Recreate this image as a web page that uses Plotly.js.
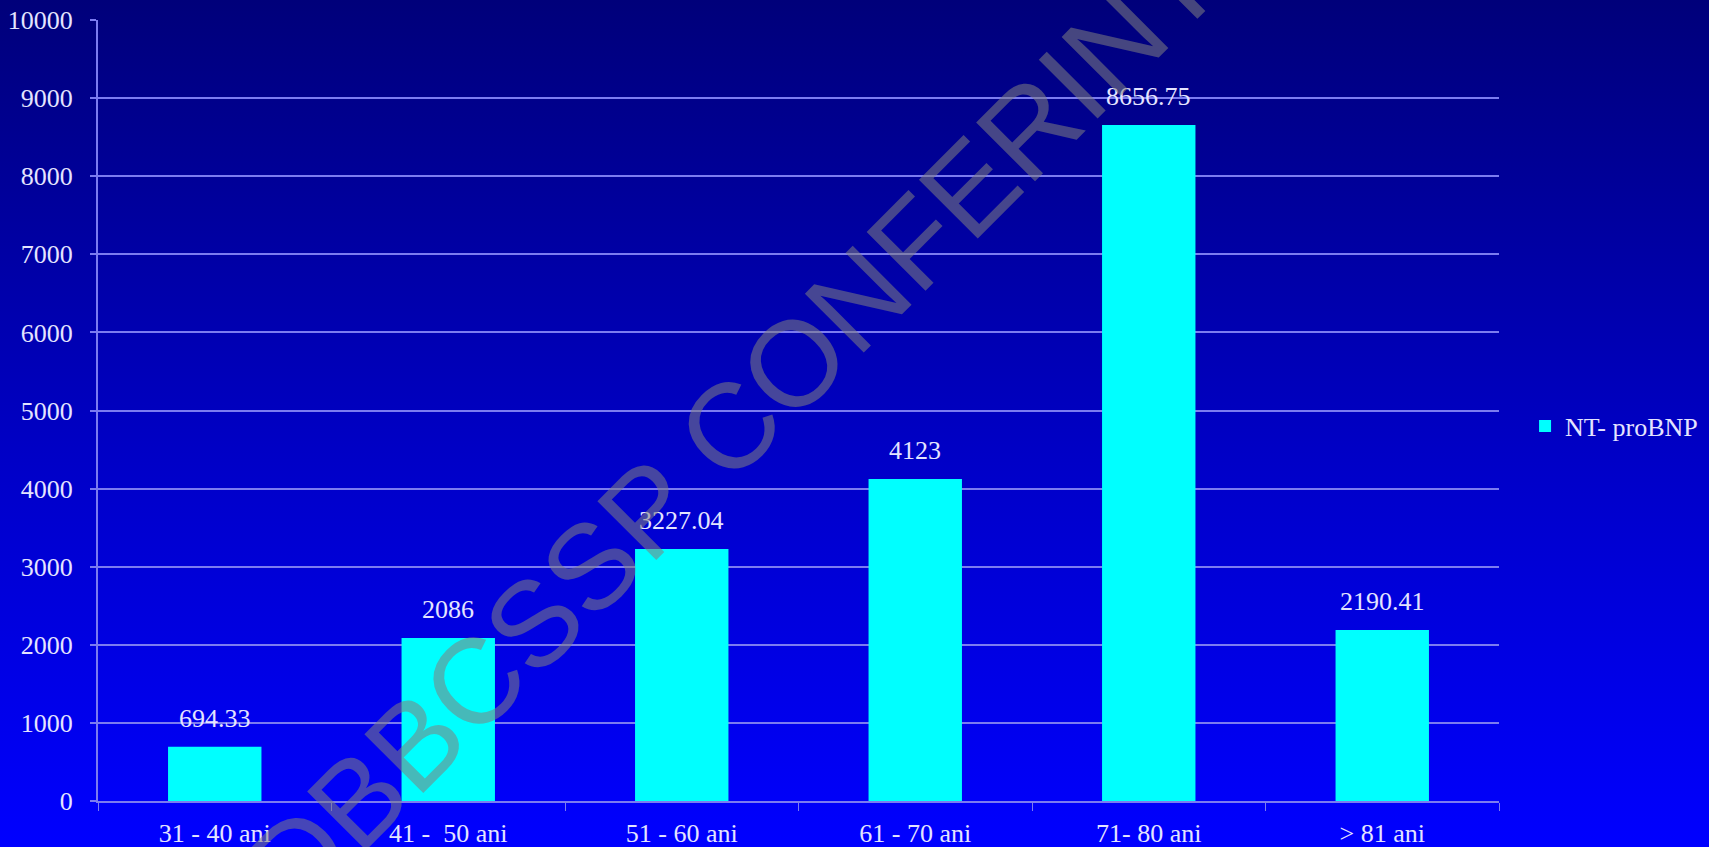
<!DOCTYPE html>
<html>
<head>
<meta charset="utf-8">
<script src="https://cdn.plot.ly/plotly-3.0.1.min.js"></script>
<style>
  html, body { margin: 0; padding: 0; }
  body { width: 1709px; height: 847px; background: linear-gradient(to bottom, #00007A 0%, #0000C8 55%, #0000FF 100%); overflow: hidden; }
  #chart { width: 1709px; height: 847px; }
</style>
</head>
<body>
<div id="chart"></div>
<script>
const categories = ["31 - 40 ani", "41 -  50 ani", "51 - 60 ani", "61 - 70 ani", "71- 80 ani", "> 81 ani"];
const values = [694.33, 2086, 3227.04, 4123, 8656.75, 2190.41];
const valueLabels = ["694.33", "2086", "3227.04", "4123", "8656.75", "2190.41"];
const seriesName = "NT- proBNP";
const yTicks = [0, 1000, 2000, 3000, 4000, 5000, 6000, 7000, 8000, 9000, 10000];
const watermark = "DBBCSSP CONFERINTE";

const lineColor = "#7C7CF0";
const textColor = "#E4E4FF";
const serif = "'Liberation Serif', 'Times New Roman', serif";

const trace = {
  type: "bar",
  x: categories,
  y: values,
  name: seriesName,
  marker: { color: "#00FFFF" },
  width: 0.4,
  showlegend: true,
  hoverinfo: "x+y"
};

const annotations = categories.map((c, i) => ({
  x: c, y: values[i], xref: "x", yref: "y",
  text: valueLabels[i], showarrow: false,
  yanchor: "bottom", yshift: 12,
  font: { family: serif, size: 26, color: textColor }
}));

annotations.push({
  xref: "paper", yref: "paper", x: 0.473, y: 0.519,
  xanchor: "center", yanchor: "middle",
  text: watermark, showarrow: false, textangle: -45,
  font: { family: "'Liberation Sans', Arial, sans-serif", size: 121, color: "rgba(128,128,128,0.55)" }
});

const layout = {
  width: 1709, height: 847,
  margin: { l: 98, r: 210, t: 20, b: 46, autoexpand: false },
  paper_bgcolor: "rgba(0,0,0,0)",
  plot_bgcolor: "rgba(0,0,0,0)",
  showlegend: true,
  legend: {
    x: 1.0186, y: 0.48, xanchor: "left", yanchor: "middle",
    font: { family: serif, size: 26, color: textColor },
    bgcolor: "rgba(0,0,0,0)"
  },
  xaxis: {
    type: "category",
    showline: true, linecolor: lineColor, linewidth: 2,
    ticks: "outside", tickson: "boundaries", ticklen: 8, tickcolor: lineColor, tickwidth: 1,
    tickfont: { family: serif, size: 26, color: textColor },
    ticklabelstandoff: 8,
    showgrid: false, zeroline: false
  },
  yaxis: {
    range: [0, 10000],
    tickvals: yTicks,
    ticktext: yTicks.map(String),
    showline: true, linecolor: lineColor, linewidth: 2,
    ticks: "outside", ticklen: 6, tickcolor: lineColor, tickwidth: 2,
    showgrid: true, gridcolor: lineColor, gridwidth: 2,
    zeroline: false,
    tickfont: { family: serif, size: 26, color: textColor },
    ticklabelstandoff: 12
  },
  annotations: annotations
};

Plotly.newPlot("chart", [trace], layout, { displayModeBar: false, staticPlot: true });
</script>
</body>
</html>
